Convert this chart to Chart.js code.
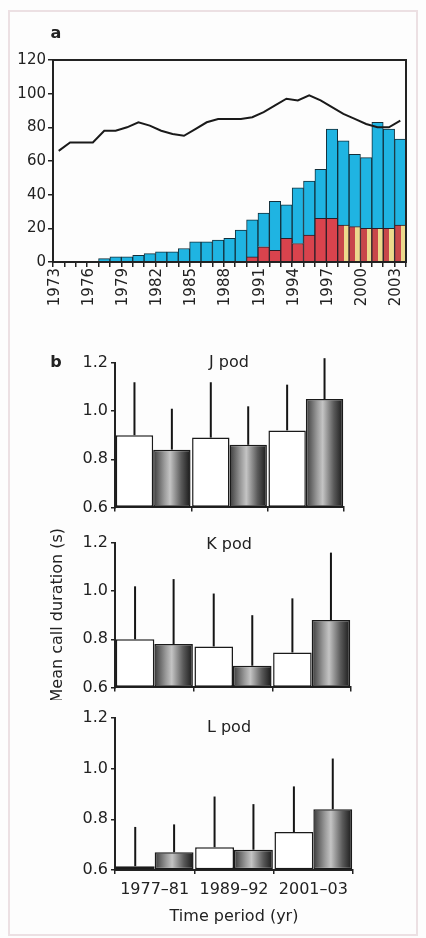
<!DOCTYPE html>
<html><head><meta charset="utf-8">
<script src="https://cdn.jsdelivr.net/npm/chart.js@4/dist/chart.umd.min.js"></script>
<style>
html,body{margin:0;padding:0;background:#fdfdfd;}
body{width:426px;height:938px;position:relative;overflow:hidden;font-family:"DejaVu Sans",Arial,sans-serif;color:#222;}
canvas{position:absolute;left:0;}
.frame{position:absolute;left:8px;top:10px;width:406px;height:922px;border:2px solid #ece0e3;}
.lbl{position:absolute;font-size:16px;line-height:20px;white-space:nowrap;transform:translateX(-50%);z-index:2;color:#222;}
</style></head><body>
<div class="frame"></div>
<canvas id="ca" width="426" height="300" style="top:30px"></canvas>
<canvas id="cj" width="426" height="190" style="top:330px"></canvas>
<canvas id="ck" width="426" height="180" style="top:520px"></canvas>
<canvas id="cl" width="426" height="238" style="top:700px"></canvas>
<div class="lbl" style="left:56px;top:23px;font-weight:bold">a</div>
<div class="lbl" style="left:56px;top:352px;font-weight:bold">b</div>
<div class="lbl" style="left:229px;top:352px">J pod</div>
<div class="lbl" style="left:229px;top:534px">K pod</div>
<div class="lbl" style="left:229px;top:717px">L pod</div>
<script>
// ---------- Panel a data ----------
const years = ['1973','1974','1975','1976','1977','1978','1979','1980','1981','1982','1983','1984','1985','1986','1987','1988','1989','1990','1991','1992','1993','1994','1995','1996','1997','1998','1999','2000','2001','2002','2003'];
const whaleCount = [66,71,71,71,78,78,80,83,81,78,76,75,79,83,85,85,85,86,89,93,97,96,99,96,92,88,85,82,80,80,84];
const boatsLower = [0,0,0,0,0,0,0,0,0,0,0,0,0,0,0,0,0,3,9,7,14,11,16,26,26,22,21,20,20,20,22];
const boatsUpper = [0,0,0,0,2,3,3,4,5,6,6,8,12,12,13,14,19,22,20,29,20,33,32,29,53,50,43,42,63,59,51];
const yTicksA = [0,20,40,60,80,100,120];

// ---------- Panel b data ----------
const periods = ['1977\u201381','1989\u201392','2001\u201303'];
const jWhite = [0.90,0.89,0.92];
const jWhiteUpper = [1.12,1.12,1.11];
const jGrey = [0.84,0.86,1.05];
const jGreyUpper = [1.01,1.02,1.22];
const kWhite = [0.80,0.77,0.745];
const kWhiteUpper = [1.02,0.99,0.97];
const kGrey = [0.78,0.69,0.88];
const kGreyUpper = [1.05,0.90,1.16];
const lWhite = [0.615,0.69,0.75];
const lWhiteUpper = [0.77,0.89,0.93];
const lGrey = [0.67,0.68,0.84];
const lGreyUpper = [0.78,0.86,1.04];
const yTicksB = [0.6,0.8,1.0,1.2];

const FONT = '"DejaVu Sans", Arial, sans-serif';
const INK = '#222';

const frameBox = {
  id: 'frameBox',
  afterDraw(chart) {
    const a = chart.chartArea, c = chart.ctx;
    c.save(); c.strokeStyle = INK; c.lineWidth = 2;
    c.strokeRect(a.left, a.top, a.right - a.left, a.bottom - a.top);
    c.restore();
  }
};

const errorBars = {
  id: 'errorBars',
  afterDatasetsDraw(chart) {
    const c = chart.ctx, ys = chart.scales.y;
    chart.data.datasets.forEach((ds, di) => {
      if (!ds.upper) return;
      chart.getDatasetMeta(di).data.forEach((el, i) => {
        const top = ys.getPixelForValue(ds.upper[i]);
        c.save(); c.strokeStyle = '#151515'; c.lineWidth = 2;
        c.beginPath(); c.moveTo(el.x, el.y); c.lineTo(el.x, top); c.stroke();
        c.restore();
      });
    });
  }
};

// lower segment colour: red, later years split red / yellow
function lowerColor(ctx) {
  const chart = ctx.chart, xs = chart.scales.x;
  const i = ctx.dataIndex;
  if (ctx.type !== 'data' || !xs || !(+years[i] >= 1998)) return '#d9434d';
  const w = xs.width / years.length;
  const cx = xs.getPixelForValue(i);
  if (!isFinite(cx) || !isFinite(w)) return '#d9434d';
  const g = chart.ctx.createLinearGradient(cx - w / 2, 0, cx + w / 2, 0);
  g.addColorStop(0, '#c8464a'); g.addColorStop(0.55, '#c8464a');
  g.addColorStop(0.55, '#ecd98c'); g.addColorStop(1, '#ecd98c');
  return g;
}

new Chart(document.getElementById('ca'), {
  data: {
    labels: years,
    datasets: [
      { type: 'line', data: whaleCount, borderColor: '#1a1a1a', borderWidth: 2, pointRadius: 0, tension: 0, stack: 'w', order: 0 },
      { type: 'bar', data: boatsLower, backgroundColor: lowerColor, borderColor: '#2a1e28', borderWidth: 1, stack: 'b', order: 1, categoryPercentage: 1, barPercentage: 1 },
      { type: 'bar', data: boatsUpper, backgroundColor: '#1fb4e2', borderColor: '#13303c', borderWidth: 1, stack: 'b', order: 1, categoryPercentage: 1, barPercentage: 1 }
    ]
  },
  options: {
    responsive: false, animation: false, devicePixelRatio: 1,
    layout: { padding: { left: 0, right: 20, top: 30, bottom: 0 } },
    plugins: { legend: { display: false }, tooltip: { enabled: false } },
    scales: {
      x: {
        stacked: true, offset: true,
        grid: { drawOnChartArea: false, offset: true, tickLength: 5, color: INK, lineWidth: 1.5 },
        border: { color: INK, width: 2 },
        ticks: { autoSkip: false, minRotation: 90, maxRotation: 90, padding: 1, labelOffset: -4, color: INK,
          font: { family: FONT, size: 15 },
          callback: (v, i) => (i % 3 === 0 ? years[i] : '') },
        afterFit: s => { s.height = 68; }
      },
      y: {
        stacked: true, min: 0, max: 120,
        afterBuildTicks: s => { s.ticks = yTicksA.map(v => ({ value: v })); },
        grid: { drawOnChartArea: false, tickLength: 5, color: INK, lineWidth: 1.5 },
        border: { color: INK, width: 2 },
        ticks: { padding: 2, color: INK, font: { family: FONT, size: 15 } },
        afterFit: s => { s.width = 53; }
      }
    }
  },
  plugins: [frameBox]
});

function greyFill(ctx) {
  const chart = ctx.chart, xs = chart.scales.x;
  if (ctx.type !== 'data' || !xs) return '#666';
  const cat = xs.width / periods.length;
  const cx = xs.getPixelForValue(ctx.dataIndex);
  const w = cat * 0.98 / 2;
  if (!isFinite(cx) || !isFinite(w) || w <= 0) return '#666';
  const g = chart.ctx.createLinearGradient(cx, 0, cx + w, 0);
  g.addColorStop(0, '#3a3a3a');
  g.addColorStop(0.3, '#9a9a9a');
  g.addColorStop(0.45, '#c4c4c4');
  g.addColorStop(0.75, '#5a5a5a');
  g.addColorStop(1, '#181818');
  return g;
}

function podChart(id, white, whiteUp, grey, greyUp, cfg) {
  return new Chart(document.getElementById(id), {
    type: 'bar',
    data: {
      labels: periods,
      datasets: [
        { data: white, upper: whiteUp, base: 0.6, backgroundColor: '#ffffff', borderColor: '#1a1a1a', borderWidth: 1.5, borderSkipped: false, categoryPercentage: 0.98, barPercentage: 1 },
        { data: grey, upper: greyUp, base: 0.6, backgroundColor: greyFill, borderColor: '#1a1a1a', borderWidth: 1.5, borderSkipped: false, categoryPercentage: 0.98, barPercentage: 1 }
      ]
    },
    options: {
      responsive: false, animation: false, devicePixelRatio: 1,
      layout: { padding: { left: cfg.padLeft, right: 426 - cfg.right, top: cfg.padTop, bottom: 0 } },
      plugins: { legend: { display: false }, tooltip: { enabled: false } },
      scales: {
        x: {
          offset: true,
          grid: { drawOnChartArea: false, offset: true, tickLength: 4, color: INK, lineWidth: 1.5 },
          border: { color: INK, width: 2 },
          ticks: { display: cfg.showX, padding: 6, color: INK, font: { family: FONT, size: 16 } },
          title: { display: cfg.showX, text: 'Time period (yr)', color: INK, font: { family: FONT, size: 16 }, padding: { top: 0, bottom: 12 } },
          afterFit: s => { s.height = cfg.xHeight; }
        },
        y: {
          min: 0.6, max: 1.2,
          afterBuildTicks: s => { s.ticks = yTicksB.map(v => ({ value: v })); },
          grid: { drawOnChartArea: false, tickLength: 4, color: INK, lineWidth: 1.5 },
          border: { color: INK, width: 2 },
          ticks: { padding: 3, color: INK, font: { family: FONT, size: 16 }, callback: v => Number(v).toFixed(1) },
          title: { display: cfg.yTitle, text: 'Mean call duration (s)', color: INK, font: { family: FONT, size: 16 }, padding: { top: 4, bottom: 0 } },
          afterFit: s => { s.width = 115 - cfg.padLeft; }
        }
      }
    },
    plugins: [errorBars]
  });
}

podChart('cj', jWhite, jWhiteUpper, jGrey, jGreyUpper, { padLeft: 0, right: 344, padTop: 33, showX: false, xHeight: 8, yTitle: false });
podChart('ck', kWhite, kWhiteUpper, kGrey, kGreyUpper, { padLeft: 44, right: 351, padTop: 23, showX: false, xHeight: 8, yTitle: true });
podChart('cl', lWhite, lWhiteUpper, lGrey, lGreyUpper, { padLeft: 0, right: 353, padTop: 18, showX: true, xHeight: 68, yTitle: false });
</script>
</body></html>
